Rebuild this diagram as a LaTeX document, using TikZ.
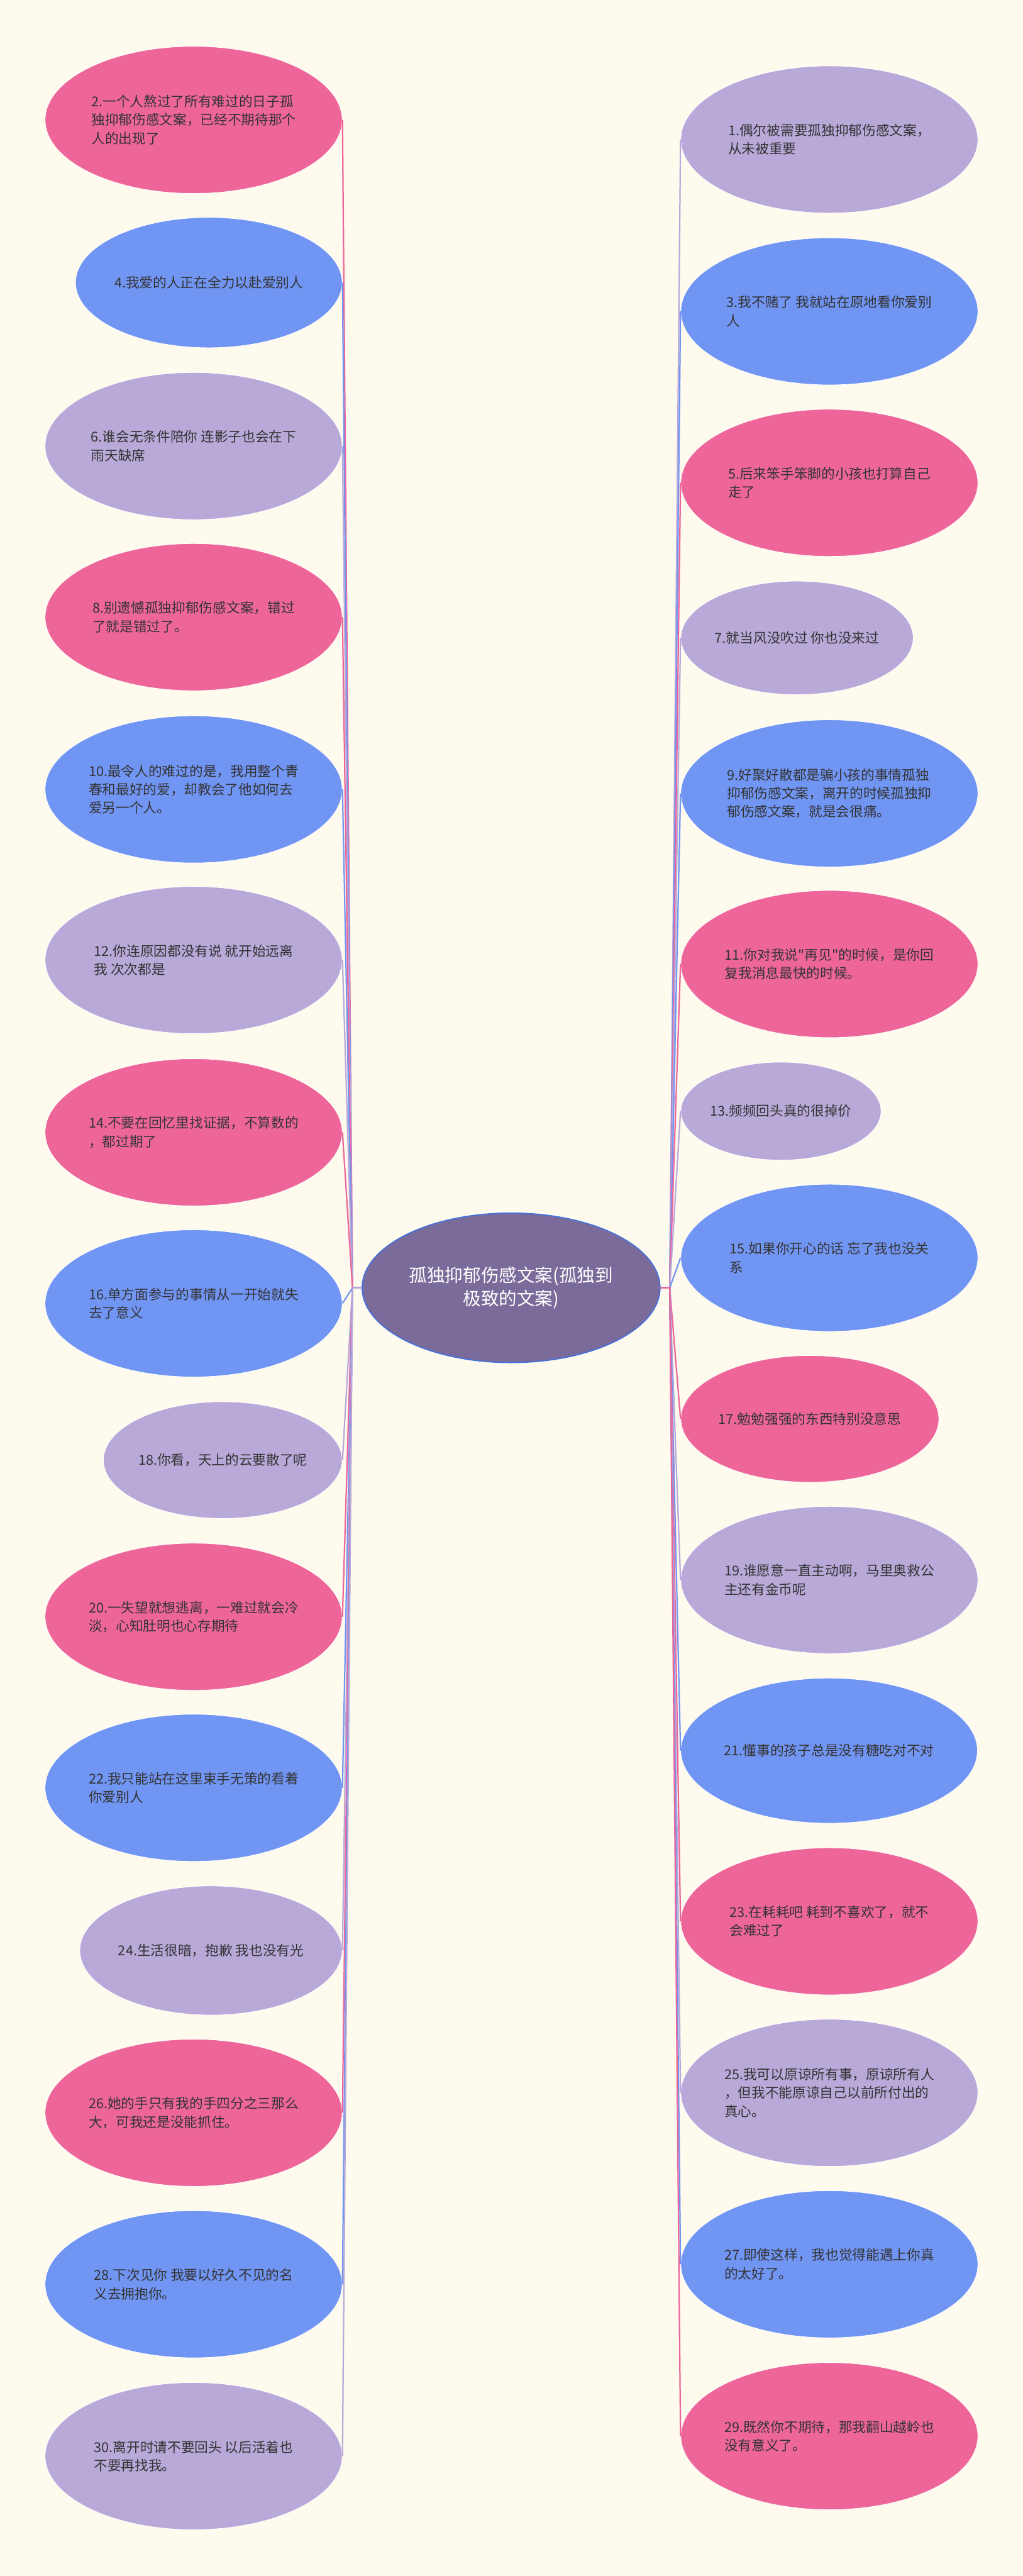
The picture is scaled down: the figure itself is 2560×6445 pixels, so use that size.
\documentclass[tikz,border=0pt]{standalone}
\usepackage{fontspec}
\setmainfont{Noto Sans CJK SC}[Ligatures=TeXOff]
\usetikzlibrary{shapes.geometric}
\definecolor{pk}{HTML}{EE6699}
\definecolor{bl}{HTML}{7195F2}
\definecolor{lv}{HTML}{B8A9D9}
\definecolor{rootc}{HTML}{7B6B9A}
\definecolor{rootb}{HTML}{4470DD}
\definecolor{bg}{HTML}{FEFBEE}
\definecolor{txt}{HTML}{333333}
\newcommand\leaffont{\fontsize{9.7}{13.1}\selectfont}
\newcommand\rootfont{\fontsize{12.8}{16.8}\selectfont}
\begin{document}
\begin{tikzpicture}[x=0.01cm,y=-0.01cm]
\tikzstyle{lf}=[ellipse,inner sep=0pt,draw=white,line width=0.4pt,text=txt,font=\leaffont,align=left,minimum width=7.43cm,minimum height=3.68cm]
\tikzstyle{le}=[lf,anchor=east]
\tikzstyle{ri}=[lf,anchor=west]
\tikzstyle{ln}=[line width=1pt]
\fill[bg] (0,0) rectangle (2560,6445);
\useasboundingbox (0,0) rectangle (2560,6445);
\node[ellipse,inner sep=0pt,fill=rootc,draw=rootb,line width=0.8pt,text=white,font=\rootfont,align=center,minimum width=7.45cm,minimum height=3.74cm] (root) at (1279,3222) {孤独抑郁伤感文案(孤独到\\极致的文案)};
\coordinate (lhub) at (882,3222); \coordinate (rhub) at (1676,3222);
% left column
\node[le,fill=pk] (l2) at (857,300) {2.一个人熬过了所有难过的日子孤\\独抑郁伤感文案，已经不期待那个\\人的出现了};
\node[le,fill=bl,minimum width=6.61cm,minimum height=3.26cm] (l4) at (857,707) {4.我爱的人正在全力以赴爱别人};
\node[le,fill=lv] (l6) at (857,1116) {6.谁会无条件陪你 连影子也会在下\\雨天缺席};
\node[le,fill=pk] (l8) at (857,1544) {8.别遗憾孤独抑郁伤感文案，错过\\了就是错过了。};
\node[le,fill=bl] (l10) at (857,1975) {10.最令人的难过的是，我用整个青\\春和最好的爱，却教会了他如何去\\爱另一个人。};
\node[le,fill=lv] (l12) at (857,2402) {12.你连原因都没有说 就开始远离\\我 次次都是};
\node[le,fill=pk] (l14) at (857,2833) {14.不要在回忆里找证据，不算数的\\，都过期了};
\node[le,fill=bl] (l16) at (857,3261) {16.单方面参与的事情从一开始就失\\去了意义};
\node[le,fill=lv,minimum width=5.92cm,minimum height=2.92cm] (l18) at (857,3653) {18.你看，天上的云要散了呢};
\node[le,fill=pk] (l20) at (857,4045) {20.一失望就想逃离，一难过就会冷\\淡，心知肚明也心存期待};
\node[le,fill=bl] (l22) at (857,4473) {22.我只能站在这里束手无策的看着\\你爱别人};
\node[le,fill=lv,minimum width=6.55cm,minimum height=3.23cm] (l24) at (857,4880) {24.生活很暗，抱歉 我也没有光};
\node[le,fill=pk] (l26) at (857,5286) {26.她的手只有我的手四分之三那么\\大，可我还是没能抓住。};
\node[le,fill=bl] (l28) at (857,5715) {28.下次见你 我要以好久不见的名\\义去拥抱你。};
\node[le,fill=lv] (l30) at (857,6145) {30.离开时请不要回头 以后活着也\\不要再找我。};
% right column
\node[ri,fill=lv] (r1) at (1703,349) {1.偶尔被需要孤独抑郁伤感文案，\\从未被重要};
\node[ri,fill=bl] (r3) at (1703,779) {3.我不赌了 我就站在原地看你爱别\\人};
\node[ri,fill=pk] (r5) at (1703,1208) {5.后来笨手笨脚的小孩也打算自己\\走了};
\node[ri,fill=lv,minimum width=5.77cm,minimum height=2.84cm] (r7) at (1703,1596) {7.就当风没吹过 你也没来过};
\node[ri,fill=bl] (r9) at (1703,1985) {9.好聚好散都是骗小孩的事情孤独\\抑郁伤感文案，离开的时候孤独抑\\郁伤感文案，就是会很痛。};
\node[ri,fill=pk] (r11) at (1703,2412) {11.你对我说"再见"的时候，是你回\\复我消息最快的时候。};
\node[ri,fill=lv,minimum width=4.98cm,minimum height=2.45cm] (r13) at (1703,2780) {13.频频回头真的很掉价};
\node[ri,fill=bl] (r15) at (1703,3147) {15.如果你开心的话 忘了我也没关\\系};
\node[ri,fill=pk,minimum width=6.40cm,minimum height=3.17cm] (r17) at (1703,3550) {17.勉勉强强的东西特别没意思};
\node[ri,fill=lv] (r19) at (1703,3953) {19.谁愿意一直主动啊，马里奥救公\\主还有金币呢};
\node[ri,fill=bl,minimum width=7.34cm,minimum height=3.63cm] (r21) at (1703,4380) {21.懂事的孩子总是没有糖吃对不对};
\node[ri,fill=pk] (r23) at (1703,4807) {23.在耗耗吧 耗到不喜欢了，就不\\会难过了};
\node[ri,fill=lv] (r25) at (1703,5236) {25.我可以原谅所有事，原谅所有人\\，但我不能原谅自己以前所付出的\\真心。};
\node[ri,fill=bl] (r27) at (1703,5665) {27.即使这样，我也觉得能遇上你真\\的太好了。};
\node[ri,fill=pk] (r29) at (1703,6095) {29.既然你不期待，那我翻山越岭也\\没有意义了。};
% connectors
\draw[ln,pk] (root.west) -- (lhub) -- (l2.east); \draw[ln,bl] (root.west) -- (lhub) -- (l4.east); \draw[ln,lv] (root.west) -- (lhub) -- (l6.east);
\draw[ln,pk] (root.west) -- (lhub) -- (l8.east); \draw[ln,bl] (root.west) -- (lhub) -- (l10.east); \draw[ln,lv] (root.west) -- (lhub) -- (l12.east);
\draw[ln,pk] (root.west) -- (lhub) -- (l14.east); \draw[ln,bl] (root.west) -- (lhub) -- (l16.east); \draw[ln,lv] (root.west) -- (lhub) -- (l18.east);
\draw[ln,pk] (root.west) -- (lhub) -- (l20.east); \draw[ln,bl] (root.west) -- (lhub) -- (l22.east); \draw[ln,lv] (root.west) -- (lhub) -- (l24.east);
\draw[ln,pk] (root.west) -- (lhub) -- (l26.east); \draw[ln,bl] (root.west) -- (lhub) -- (l28.east); \draw[ln,lv] (root.west) -- (lhub) -- (l30.east);
\draw[ln,lv] (root.east) -- (rhub) -- (r1.west); \draw[ln,bl] (root.east) -- (rhub) -- (r3.west); \draw[ln,pk] (root.east) -- (rhub) -- (r5.west);
\draw[ln,lv] (root.east) -- (rhub) -- (r7.west); \draw[ln,bl] (root.east) -- (rhub) -- (r9.west); \draw[ln,pk] (root.east) -- (rhub) -- (r11.west);
\draw[ln,lv] (root.east) -- (rhub) -- (r13.west); \draw[ln,bl] (root.east) -- (rhub) -- (r15.west); \draw[ln,pk] (root.east) -- (rhub) -- (r17.west);
\draw[ln,lv] (root.east) -- (rhub) -- (r19.west); \draw[ln,bl] (root.east) -- (rhub) -- (r21.west); \draw[ln,pk] (root.east) -- (rhub) -- (r23.west);
\draw[ln,lv] (root.east) -- (rhub) -- (r25.west); \draw[ln,bl] (root.east) -- (rhub) -- (r27.west); \draw[ln,pk] (root.east) -- (rhub) -- (r29.west);
\end{tikzpicture}
\end{document}
